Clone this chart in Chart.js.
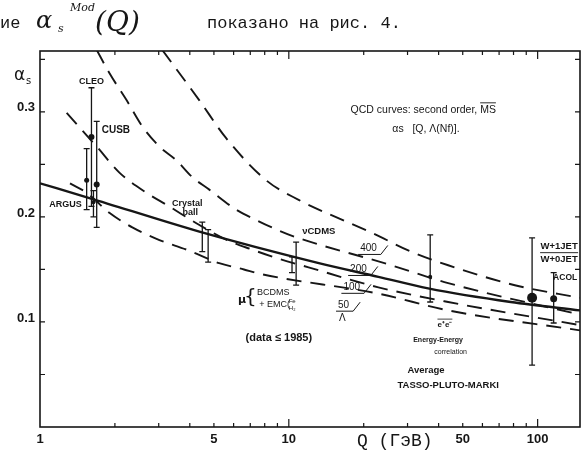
<!DOCTYPE html>
<html>
<head>
<meta charset="utf-8">
<script src="https://cdn.jsdelivr.net/npm/chart.js@4.4.1/dist/chart.umd.min.js"></script>
<style>
  html, body { margin: 0; padding: 0; background: #fff; }
  #wrap { width: 585px; height: 454px; }
</style>
</head>
<body>
<div id="wrap"><canvas id="myChart" width="585" height="454"></canvas></div>
<script>
const ctx = document.getElementById('myChart').getContext('2d');

// values: Q in GeV, alpha_s
const qSolid = [1.0, 1.58, 4.37, 13.2, 22.9, 36.3, 78, 148];
const aSolid = [0.232, 0.218, 0.186, 0.156, 0.143, 0.132, 0.119, 0.111];

// QCD curves, second order MS-bar, Lambda in MeV
const qL400 = [3.1, 4.37, 5.6, 8.1, 11, 15.4, 21.5, 31, 43.7, 81, 148];
const aL400 = [0.359, 0.311, 0.275, 0.235, 0.216, 0.200, 0.185, 0.167, 0.154, 0.135, 0.123];
const qL200 = [1.69, 1.9, 2.23, 2.58, 3.02, 3.53, 4.09, 4.79, 6.14, 7.4, 8.93, 10.6, 25, 43.7, 148];
const aL200 = [0.359, 0.337, 0.311, 0.286, 0.267, 0.254, 0.238, 0.226, 0.207, 0.197, 0.188, 0.181, 0.155, 0.137, 0.107];
const qL100 = [1.28, 1.69, 2.09, 2.68, 3.31, 4.25, 5.65, 7.1, 8.9, 12, 22.9, 43.7, 148];
const aL100 = [0.299, 0.267, 0.242, 0.223, 0.210, 0.194, 0.178, 0.169, 0.161, 0.152, 0.133, 0.119, 0.097];
const qL50 = [1.32, 1.54, 1.9, 2.35, 3.02, 3.87, 5.25, 6.6, 7.6, 22.9, 43.7, 148];
const aL50 = [0.232, 0.223, 0.204, 0.190, 0.178, 0.169, 0.156, 0.150, 0.146, 0.127, 0.111, 0.092];

// measurements
const ptName = ['', 'CLEO', 'ARGUS', 'CUSB', 'Crystal ball', 'Crystal ball', 'BCDMS+EMC', 'vCDMS', 'e+e- EEC', 'W+1JET/W+0JET', 'ACOL'];
const ptQ  = [1.54, 1.61, 1.64, 1.69, 4.49, 4.74, 10.3, 10.7, 37, 95, 116];
const ptA  = [0.235, 0.276, 0.214, 0.231, 0.186, 0.172, 0.155, 0.157, 0.143, 0.123, 0.122];
const ptLo = [0.207, 0.210, 0.200, 0.190, 0.167, 0.157, 0.147, 0.135, 0.119, 0.059, 0.099];
const ptHi = [0.265, 0.323, 0.225, 0.291, 0.195, 0.188, 0.162, 0.176, 0.183, 0.180, 0.147];
const ptDot = [2.5, 3, 2, 3, 0, 0, 0, 0, 2, 5, 3.5];

const xTickLabels = [1, 5, 10, 50, 100];
const xTicks = [2, 3, 4, 5, 6, 7, 8, 9, 10, 20, 30, 40, 50, 60, 70, 80, 90, 100];
const yTickLabels = [0.1, 0.2, 0.3];
const yTicks = [0.05, 0.1, 0.15, 0.2, 0.25, 0.3, 0.35];

const INK = '#161616';
const SANS = '"Liberation Sans"';
const toXY = (qs, as) => qs.map((q, i) => ({x: q, y: as[i]}));

function dashed(qs, as) {
    return {
        type: 'line', data: toXY(qs, as), borderColor: INK, borderWidth: 1.9,
        borderDash: [15, 9], pointRadius: 0, cubicInterpolationMode: 'monotone', fill: false,
    };
}

// text placed in data coordinates (Q, alpha)
const notes = [
    {t: 'CLEO', q: 1.61, a: 0.329, f: `bold 9px ${SANS}`},
    {t: 'CUSB', q: 1.77, a: 0.283, f: `bold 10px ${SANS}`, al: 'left'},
    {t: 'ARGUS', q: 1.47, a: 0.212, f: `bold 9px ${SANS}`, al: 'right'},
    {t: 'Crystal', q: 3.91, a: 0.213, f: `bold 9px ${SANS}`},
    {t: 'ball', q: 4.02, a: 0.204, f: `bold 9px ${SANS}`},
    {t: 'νCDMS', q: 13.2, a: 0.186, f: `bold 9.5px ${SANS}`},
    {t: 'QCD curves: second order, MS', q: 34.7, a: 0.302, f: `10.5px ${SANS}`},
    {t: 'αs   [Q, Λ(Nf)].', q: 35.6, a: 0.284, f: `10.5px ${SANS}`},
    {t: 'μ', q: 6.49, a: 0.121, f: 'bold 11px "DejaVu Sans"'},
    {t: 'BCDMS', q: 7.45, a: 0.128, f: `9px ${SANS}`, al: 'left'},
    {t: '+ EMC(', q: 7.6, a: 0.117, f: `9px ${SANS}`, al: 'left'},
    {t: '(data ≤ 1985)', q: 9.12, a: 0.085, f: `bold 11px ${SANS}`},
    {t: '400', q: 20.9, a: 0.170, f: `10px ${SANS}`, tag: 1},
    {t: '200', q: 19.05, a: 0.150, f: `10px ${SANS}`, tag: 1},
    {t: '100', q: 17.9, a: 0.133, f: `10px ${SANS}`, tag: 1},
    {t: '50', q: 16.6, a: 0.116, f: `10px ${SANS}`, tag: 1},
    {t: 'Λ', q: 16.4, a: 0.104, f: `10px ${SANS}`},
    {t: 'e⁺e⁻', q: 42.4, a: 0.097, f: `bold 8px ${SANS}`, over: 1},
    {t: 'Energy-Energy', q: 39.8, a: 0.083, f: `bold 7px ${SANS}`},
    {t: 'correlation', q: 44.7, a: 0.071, f: `7px ${SANS}`},
    {t: 'Average', q: 35.6, a: 0.054, f: `bold 9.5px ${SANS}`},
    {t: 'TASSO-PLUTO-MARKI', q: 43.7, a: 0.040, f: `bold 9.5px ${SANS}`},
    {t: 'W+1JET', q: 122, a: 0.172, f: `bold 9.5px ${SANS}`},
    {t: 'W+0JET', q: 122, a: 0.160, f: `bold 9.5px ${SANS}`},
    {t: 'ACOL', q: 129, a: 0.142, f: `bold 8.5px ${SANS}`},
];

const decor = {
    id: 'decor',
    afterDatasetsDraw(chart) {
        const {ctx: c, scales: {x, y}} = chart;
        c.save();
        c.strokeStyle = INK;
        c.lineWidth = 1.3;
        ptQ.forEach((q, i) => {
            const px = x.getPixelForValue(q);
            const y1 = y.getPixelForValue(ptHi[i]);
            const y2 = y.getPixelForValue(ptLo[i]);
            c.beginPath();
            c.moveTo(px, y1); c.lineTo(px, y2);
            c.moveTo(px - 3, y1); c.lineTo(px + 3, y1);
            c.moveTo(px - 3, y2); c.lineTo(px + 3, y2);
            c.stroke();
        });
        c.restore();
    },
    afterDraw(chart) {
        const {ctx: c, chartArea: ca, scales: {x, y}} = chart;
        c.save();
        c.strokeStyle = INK;
        c.fillStyle = INK;
        // frame
        c.lineWidth = 1.6;
        c.strokeRect(ca.left, ca.top, ca.right - ca.left, ca.bottom - ca.top);
        // inward ticks
        c.lineWidth = 1.2;
        c.beginPath();
        xTicks.forEach(v => {
            const px = x.getPixelForValue(v);
            const len = (v === 10 || v === 100) ? 8 : 4;
            c.moveTo(px, ca.bottom); c.lineTo(px, ca.bottom - len);
            c.moveTo(px, ca.top); c.lineTo(px, ca.top + len);
        });
        yTicks.forEach(v => {
            const py = y.getPixelForValue(v);
            c.moveTo(ca.left, py); c.lineTo(ca.left + 5, py);
            c.moveTo(ca.right, py); c.lineTo(ca.right - 5, py);
        });
        c.stroke();

        // annotations
        c.textBaseline = 'middle';
        notes.forEach(n => {
            const px = x.getPixelForValue(n.q);
            const py = y.getPixelForValue(n.a);
            c.font = n.f;
            c.textAlign = n.al || 'center';
            c.fillText(n.t, px, py);
            const w = c.measureText(n.t).width;
            if (n.tag) {
                c.lineWidth = 1;
                c.beginPath();
                c.moveTo(px - w / 2 - 2, py + 6); c.lineTo(px + w / 2 + 4, py + 6);
                c.lineTo(px + w / 2 + 11, py - 3);
                c.stroke();
            }
            if (n.over) {
                c.lineWidth = 0.8;
                c.beginPath();
                c.moveTo(px - w / 2, py - 6); c.lineTo(px + w / 2, py - 6);
                c.stroke();
            }
        });
        // bar over MS, brace, Fe/H2, W fraction line
        c.lineWidth = 0.9;
        c.beginPath();
        const msMid = x.getPixelForValue(34.7);
        c.font = `10.5px ${SANS}`;
        const half = c.measureText('QCD curves: second order, MS').width / 2;
        const msW = c.measureText('MS').width;
        const msY = y.getPixelForValue(0.302) - 7;
        c.moveTo(msMid + half - msW, msY); c.lineTo(msMid + half, msY);
        const wx = x.getPixelForValue(122);
        const wy = y.getPixelForValue(0.166);
        c.moveTo(wx - 19, wy); c.lineTo(wx + 19, wy);
        c.stroke();
        c.font = '20px "DejaVu Sans"';
        c.textAlign = 'center';
        c.fillText('{', x.getPixelForValue(7.0), y.getPixelForValue(0.123));
        c.font = `6px ${SANS}`;
        const emc = x.getPixelForValue(7.6) + 29;
        c.fillText('Fe', emc + 4, y.getPixelForValue(0.120));
        c.fillText('H₂', emc + 4, y.getPixelForValue(0.113));

        // axis titles and the text line of the page above the figure
        c.textAlign = 'left';
        c.textBaseline = 'alphabetic';
        c.font = '17px "DejaVu Sans"';
        c.fillText('α', 14, 80);
        c.font = '10px "DejaVu Sans"';
        c.fillText('s', 26, 84);
        c.font = '18px "Liberation Mono"';
        c.fillText('Q (ГэВ)', 357, 446);

        c.font = '17px "Liberation Mono"';
        c.fillText('ие', 0, 28);
        c.font = 'italic 24px "DejaVu Serif"';
        c.fillText('α', 36, 28);
        c.font = 'italic 11px "DejaVu Serif"';
        c.fillText('s', 58, 32);
        c.fillText('Mod', 70, 11);
        c.font = 'italic 28px "DejaVu Serif"';
        c.fillText('(Q)', 95, 31);
        c.font = '17px "Liberation Mono"';
        c.fillText('показано на рис. 4.', 207, 28);
        c.restore();
    }
};

let chart = new Chart(ctx, {
    type: 'line',
    data: {
        datasets: [
            {type: 'line', data: toXY(qSolid, aSolid), borderColor: INK, borderWidth: 2.4,
             pointRadius: 0, cubicInterpolationMode: 'monotone', fill: false},
            dashed(qL400, aL400),
            dashed(qL200, aL200),
            dashed(qL100, aL100),
            dashed(qL50, aL50),
            {type: 'scatter', data: toXY(ptQ, ptA), pointRadius: ptDot, backgroundColor: INK, borderWidth: 0},
        ],
    },
    options: {
        responsive: false,
        animation: false,
        layout: {padding: {top: 51, right: 2}},
        plugins: {legend: {display: false}, tooltip: {enabled: false}},
        scales: {
            x: {
                type: 'logarithmic', min: 1, max: 148,
                grid: {display: false, drawTicks: false}, border: {display: false},
                afterFit: s => { s.height = 27; },
                ticks: {
                    autoSkip: false, maxRotation: 0, padding: 5, color: INK,
                    font: {family: 'Liberation Sans', size: 13, weight: 'bold'},
                    callback: v => xTickLabels.includes(v) ? String(v) : '',
                },
            },
            y: {
                min: 0, max: 0.358,
                grid: {display: false, drawTicks: false}, border: {display: false},
                afterFit: s => { s.width = 40; },
                ticks: {
                    stepSize: 0.05, padding: 5, labelOffset: -4, color: INK,
                    font: {family: 'Liberation Sans', size: 13, weight: 'bold'},
                    callback: v => yTickLabels.some(t => Math.abs(t - v) < 1e-6) ? v.toFixed(1) : '',
                },
            },
        },
    },
    plugins: [decor],
});
</script>
</body>
</html>
